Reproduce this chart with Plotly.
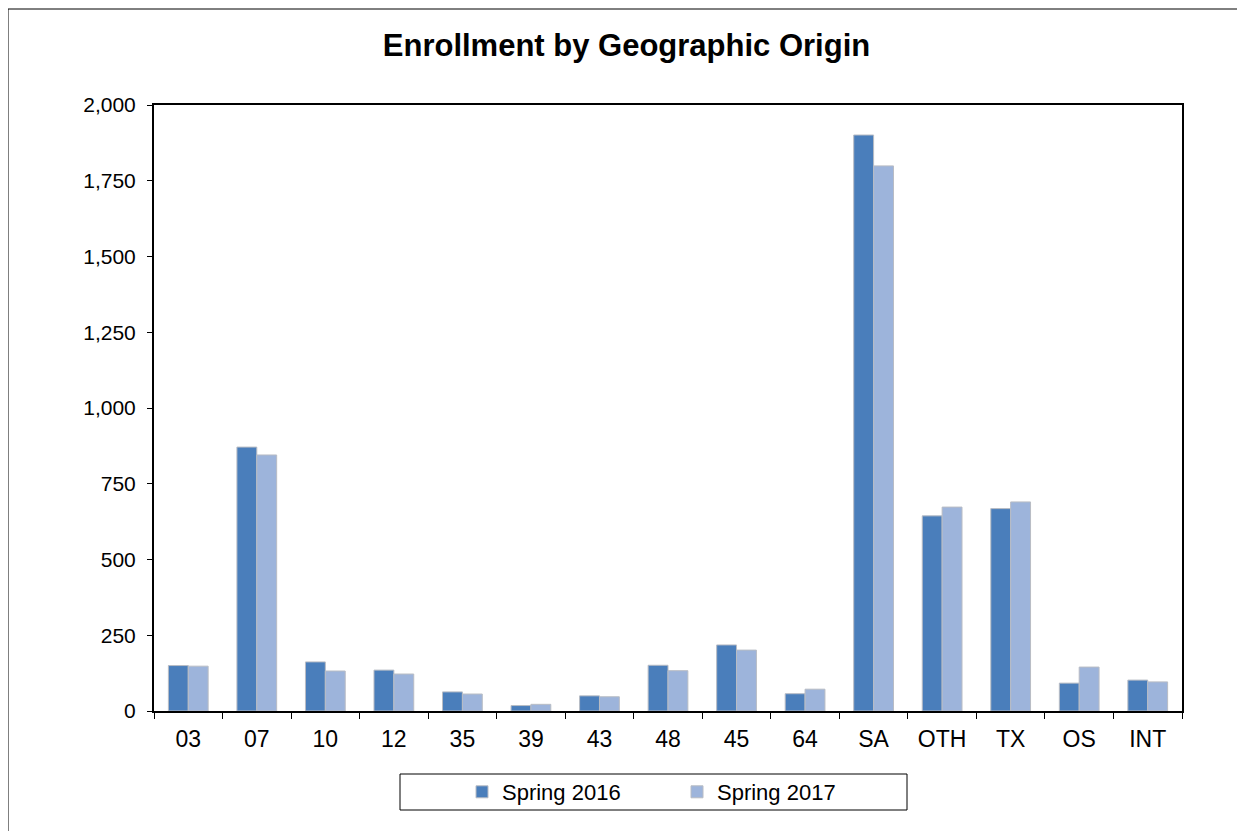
import plotly.graph_objects as go

categories = ["03", "07", "10", "12", "35", "39", "43", "48", "45", "64", "SA", "OTH", "TX", "OS", "INT"]
spring_2016 = [150, 871, 162, 135, 63, 18, 50, 151, 218, 57, 1901, 644, 668, 92, 102]
spring_2017 = [148, 845, 132, 122, 56, 22, 47, 133, 201, 72, 1799, 673, 690, 145, 96]
y_ticks = [0, 250, 500, 750, 1000, 1250, 1500, 1750, 2000]
y_tick_text = ["0", "250", "500", "750", "1,000", "1,250", "1,500", "1,750", "2,000"]

OFF = 8  # browser default body margin
W, H = 1245 - OFF, 831 - OFF
L, R, T, B = 154 - OFF, 1182 - OFF, 105 - OFF, 711 - OFF
pw, ph = R - L, B - T

def px(x):
    return (x - OFF - L) / pw

def py(y):
    return (B - (y - OFF)) / ph

fig = go.Figure()
fig.add_trace(go.Bar(x=categories, y=spring_2016, name="Spring 2016",
                     marker=dict(color="#4A7EBB", line=dict(color="#B8BCC4", width=1))))
fig.add_trace(go.Bar(x=categories, y=spring_2017, name="Spring 2017",
                     marker=dict(color="#9DB4DB", line=dict(color="#B8BCC4", width=1))))

font = "Arial, Liberation Sans, sans-serif"
fig.update_layout(
    width=W, height=H,
    margin=dict(l=L, r=W - R, t=T, b=H - B),
    paper_bgcolor="white", plot_bgcolor="white",
    barmode="group", bargap=0.42, bargroupgap=0,
    font=dict(family=font, size=20, color="black"),
    title=dict(text="<b>Enrollment by Geographic Origin</b>", x=0.5, xref="container",
               y=1 - (45 - OFF) / H, yanchor="middle", xanchor="center",
               font=dict(family=font, size=31, color="black")),
    xaxis=dict(showline=True, linecolor="black", linewidth=2, mirror=True,
               ticks="outside", tickson="boundaries", ticklen=6, tickcolor="black",
               tickwidth=1, tickfont=dict(size=23), showgrid=False,
               ticklabelstandoff=6),
    yaxis=dict(range=[0, 2000], tickvals=y_ticks, ticktext=y_tick_text,
               showline=True, linecolor="black", linewidth=2, mirror=True,
               ticks="outside", ticklen=5, tickcolor="black", tickwidth=1,
               showgrid=False, zeroline=False, tickfont=dict(size=21),
               ticklabelstandoff=7),
    legend=dict(orientation="h", x=px(462), xanchor="left", y=py(792),
                yanchor="middle", entrywidth=170, entrywidthmode="pixels",
                bgcolor="rgba(0,0,0,0)", borderwidth=0, font=dict(size=22),
                itemclick=False),
    shapes=[
        dict(type="rect", xref="paper", yref="paper",
             x0=px(8), x1=px(1242), y0=py(845), y1=py(9),
             line=dict(color="black", width=1), layer="below"),
        dict(type="rect", xref="paper", yref="paper",
             x0=px(400), x1=px(907), y0=py(810), y1=py(774),
             line=dict(color="black", width=1), layer="below"),
    ],
)

fig.write_html("out.html")
